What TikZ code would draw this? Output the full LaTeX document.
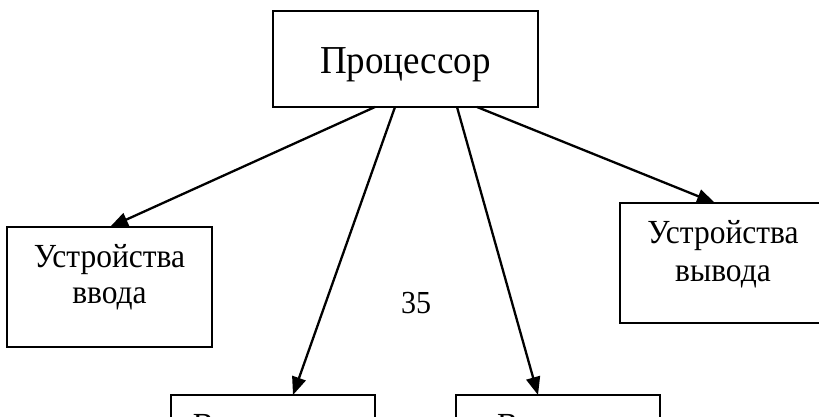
\documentclass[tikz,border=0pt]{standalone}
\usepackage{fontspec}
\usepackage{graphicx}
\setmainfont{Liberation Serif}
\usetikzlibrary{arrows.meta}
\newcommand{\tallt}[1]{\scalebox{1}[1.07]{#1}}
\begin{document}
\begin{tikzpicture}[x=1pt,y=-1pt,
  box/.style={draw,line width=2.4pt,minimum width=#1,minimum height=120pt,inner sep=0pt,outer sep=0pt},
  txt/.style={anchor=base,inner sep=0pt,font=\fontsize{31.5}{37}\selectfont},
  bigtxt/.style={anchor=base,inner sep=0pt,font=\fontsize{37}{44}\selectfont},
  conn/.style={line width=2.3pt,-{Triangle[length=18pt,width=14pt]}}]
\useasboundingbox (0,0) rectangle (819,417);
\clip (0,0) rectangle (819,417);
\node[box=265pt,minimum height=96pt] (proc) at (405.5,59) {};
\node[box=205pt] (inp) at (109.5,287) {};
\node[box=206pt] (out) at (723,263) {};
\node[box=204pt] (mem1) at (273,455) {};
\node[box=204pt] (mem2) at (558,455) {};
\node[bigtxt] (proct) at (405.5,74) {\tallt{Процессор}};
\node[txt] (inpa) at (109.5,267) {\tallt{Устройства}};
\node[txt] (inpb) at (109.5,303) {\tallt{ввода}};
\node[txt] (outa) at (723,243) {\tallt{Устройства}};
\node[txt] (outb) at (723,281) {\tallt{вывода}};
\node[txt] (mema) at (273,436) {\tallt{Внутренняя}};
\node[txt] (memb) at (558,436) {\tallt{Внешняя}};
\node[txt,font=\fontsize{30}{36}\selectfont] (num) at (416,313) {\tallt{35}};
\draw[conn] ([xshift=-30.5pt]proc.south) -- ([xshift=0.5pt]inp.north);
\draw[conn] ([xshift=-10.5pt]proc.south) -- ([xshift=20pt]mem1.north);
\draw[conn] ([xshift=51.5pt]proc.south) -- ([xshift=-20pt]mem2.north);
\draw[conn] ([xshift=71.5pt]proc.south) -- ([xshift=-8pt]out.north);
\end{tikzpicture}
\end{document}
